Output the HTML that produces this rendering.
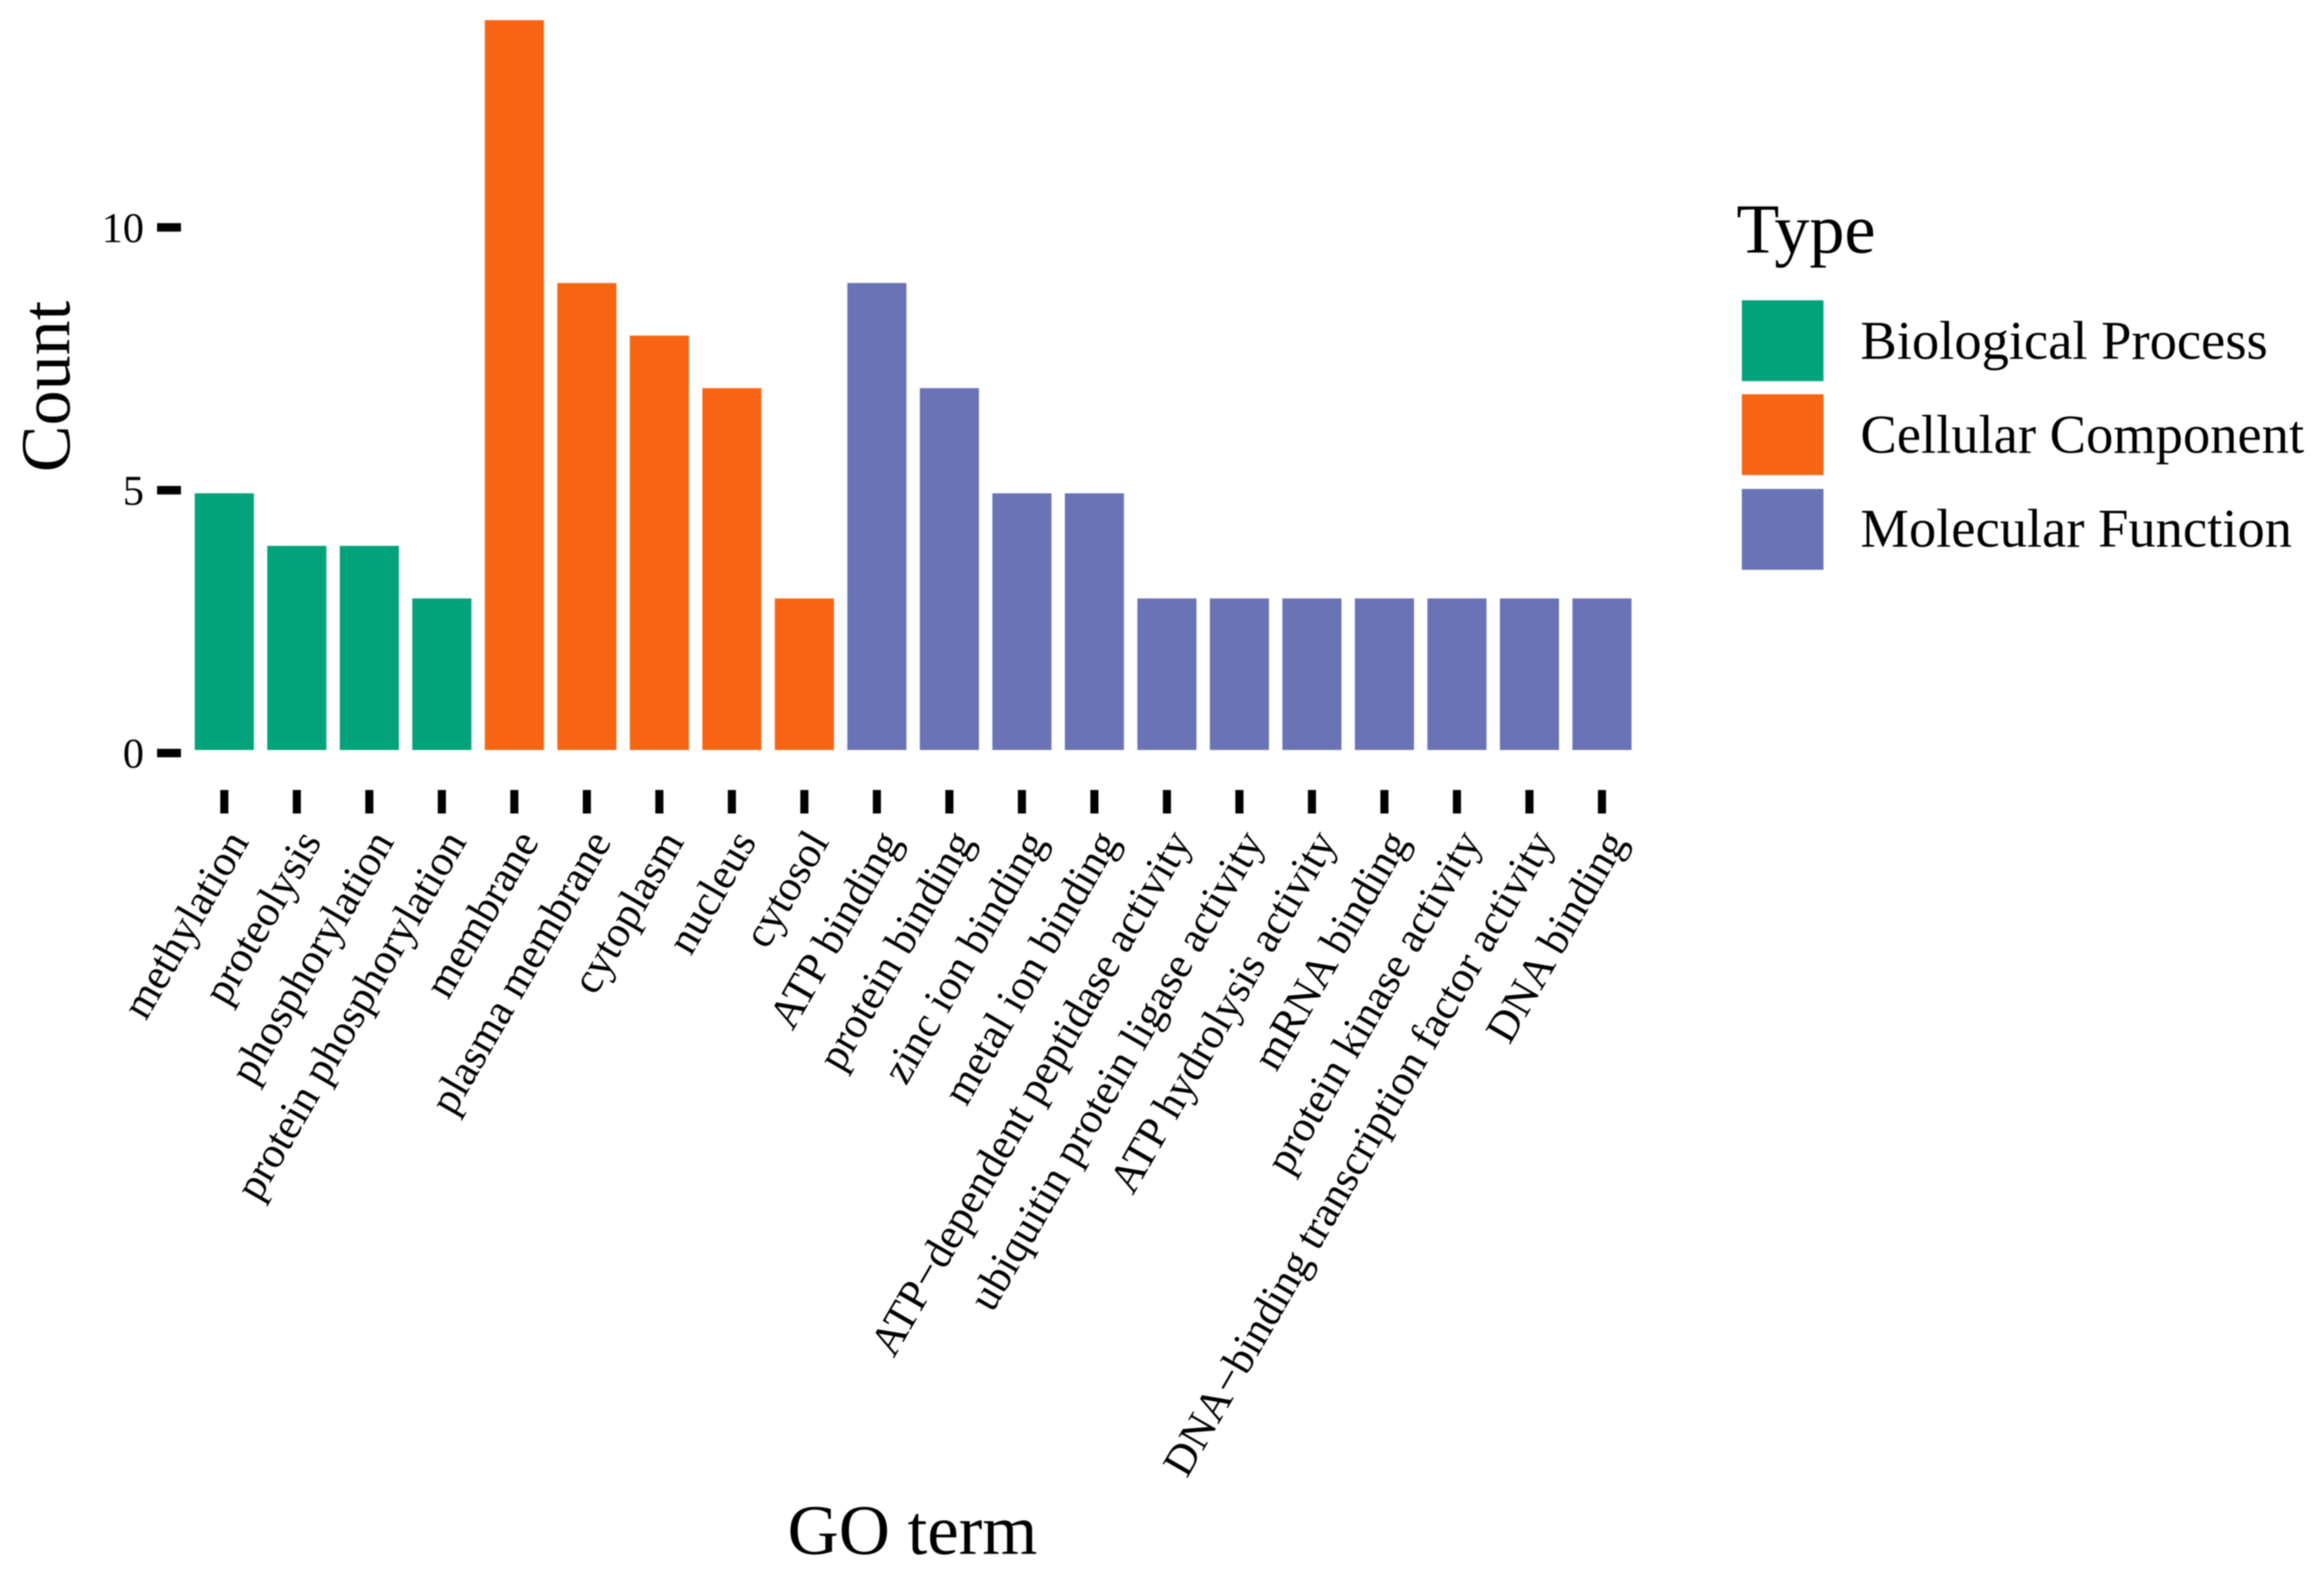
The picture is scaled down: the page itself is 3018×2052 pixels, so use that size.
<!DOCTYPE html>
<html>
<head>
<meta charset="utf-8">
<title>GO term counts</title>
<style>
html,body{margin:0;padding:0;background:#fff;}
svg{display:block;filter:blur(0.7px);}
text{font-family:"Liberation Serif",serif;fill:#000;}
</style>
</head>
<body>
<svg id="chart" xmlns="http://www.w3.org/2000/svg" width="3018" height="2052" viewBox="0 0 3018 2052">
<rect x="0" y="0" width="3018" height="2052" fill="#ffffff"/>
<g id="bars"></g>
<g id="y-axis"></g>
<g id="x-axis"></g>
<text transform="translate(90 502) rotate(-90)" text-anchor="middle" font-size="91">Count</text>
<text x="1185" y="2018" text-anchor="middle" font-size="92">GO term</text>
<g>
<text x="2255" y="328" font-size="91">Type</text>
<rect x="2262" y="390" width="106" height="105" fill="#02A27A"/>
<text x="2416" y="466" font-size="70.8">Biological Process</text>
<rect x="2262" y="512" width="106" height="105" fill="#F76514"/>
<text x="2416" y="588" font-size="70.8">Cellular Component</text>
<rect x="2262" y="635" width="106" height="105" fill="#6A73B5"/>
<text x="2416" y="710" font-size="70.8">Molecular Function</text>
</g>
</svg>
<script>
var categories = ["methylation","proteolysis","phosphorylation","protein phosphorylation","membrane","plasma membrane","cytoplasm","nucleus","cytosol","ATP binding","protein binding","zinc ion binding","metal ion binding","ATP\u2212dependent peptidase activity","ubiquitin protein ligase activity","ATP hydrolysis activity","mRNA binding","protein kinase activity","DNA\u2212binding transcription factor activity","DNA binding"];
var counts = [5,4,4,3,14,9,8,7,3,9,7,5,5,3,3,3,3,3,3,3];
var types = ["BP","BP","BP","BP","CC","CC","CC","CC","CC","MF","MF","MF","MF","MF","MF","MF","MF","MF","MF","MF"];
var yTicks = [0,5,10];
var typeColors = {BP:"#02A27A",CC:"#F76514",MF:"#6A73B5"};

var NS = "http://www.w3.org/2000/svg";
function xScale(i){ return 291.3 + i * 94.16; }
function yScale(v){ return 978 - v * 68.27; }
var bandWidth = 94.16 * 0.9;
var inset = 4;

var barsG = document.getElementById("bars");
var yG = document.getElementById("y-axis");
var xG = document.getElementById("x-axis");

counts.forEach(function(v, i){
  var r = document.createElementNS(NS, "rect");
  
  
  r.setAttribute("x", xScale(i) - bandWidth / 2 + inset);
  r.setAttribute("y", yScale(v) + inset);
  r.setAttribute("width", bandWidth - 2 * inset);
  r.setAttribute("height", yScale(0) - yScale(v) - 2 * inset);
  r.setAttribute("fill", typeColors[types[i]]);
  barsG.appendChild(r);
});

yTicks.forEach(function(t){
  var m = document.createElementNS(NS, "rect");
  
  
  m.setAttribute("x", 204);
  m.setAttribute("y", yScale(t) - 5.5);
  m.setAttribute("width", 31);
  m.setAttribute("height", 11);
  m.setAttribute("fill", "#000");
  yG.appendChild(m);
  var l = document.createElementNS(NS, "text");
  
  
  l.setAttribute("x", 187);
  l.setAttribute("y", yScale(t) + 19);
  l.setAttribute("text-anchor", "end");
  l.setAttribute("font-size", "55");
  l.textContent = t;
  yG.appendChild(l);
});

categories.forEach(function(c, i){
  var m = document.createElementNS(NS, "rect");
  
  
  m.setAttribute("x", xScale(i) - 5.25);
  m.setAttribute("y", 1026);
  m.setAttribute("width", 10.5);
  m.setAttribute("height", 30.5);
  m.setAttribute("fill", "#000");
  xG.appendChild(m);
  var l = document.createElementNS(NS, "text");
  
  
  l.setAttribute("transform", "translate(" + (xScale(i) + 33) + " 1093) rotate(-60)");
  l.setAttribute("text-anchor", "end");
  l.setAttribute("font-size", "56.5");
  l.textContent = c;
  xG.appendChild(l);
});
</script>
</body>
</html>
